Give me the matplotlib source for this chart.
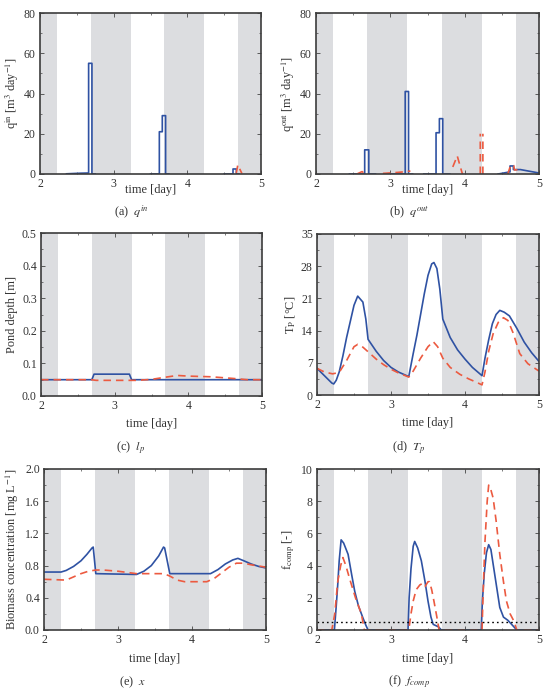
import numpy as np
import matplotlib
matplotlib.use('Agg')
import matplotlib.pyplot as plt
from matplotlib.ticker import MultipleLocator

plt.rcParams['font.family'] = ['Liberation Serif', 'DejaVu Serif']
plt.rcParams['mathtext.fontset'] = 'stix'
plt.rcParams['font.size'] = 8.5

nan = np.nan

# night periods (grey bands)
night_start = [2.0, 2.69, 3.69, 4.69]
night_end = [2.23, 3.23, 4.23, 5.0]

# (a) q_in
qin_t_blue = [2.36, 2.55, 2.66, 2.66, 2.705, 2.705, 2.75, nan, 3.50, 3.62, 3.62, 3.66, 3.66, 3.705, 3.705, 3.75,
              nan, 4.50, 4.62, 4.62, 4.665, 4.665, 4.70]
qin_blue = [0.1, 0.4, 0.5, 55, 55, 0, 0, nan, 0, 0, 21, 21, 29, 29, 0, 0,
            nan, 0, 0, 2.5, 2.5, 0, 0]
qin_t_red = [4.665, 4.685, 4.74]
qin_red = [0.5, 4.5, 0.3]

# (b) q_out
qout_t_blue = [2.45, 2.655, 2.655, 2.71, 2.71, 2.8, nan, 2.95, 3.20, 3.20, 3.245, 3.245, 3.3, nan,
               3.45, 3.615, 3.615, 3.66, 3.66, 3.705, 3.705, 3.8, nan,
               4.45, 4.6, 4.61, 4.61, 4.655, 4.655, 4.75, 5.0]
qout_blue = [0, 0, 12, 12, 0, 0, nan, 0, 0, 41, 41, 0, 0, nan,
             0, 0, 20.5, 20.5, 27.5, 27.5, 0, 0, nan,
             0, 1, 1, 4, 4, 2.2, 2.2, 0.5]
qout_t_red = [2.55, 2.62, 2.66, nan, 2.9, 3.1, 3.22, 3.27, nan, 3.84, 3.9, 3.95, 3.97, nan,
              4.21, 4.21, nan, 4.245, 4.245, nan, 4.58, 4.62, 4.66, 4.67, 4.73]
qout_red = [0, 1.2, 0, nan, 0.3, 0.8, 1.2, 1.5, nan, 3.5, 9, 2.5, 0, nan,
            0, 20, nan, 0, 20, nan, 0, 4.5, 4.2, 2, 2.2]

# (c) pond depth
lp_t_blue = [2.0, 2.69, 2.72, 3.20, 3.23, 5.0]
lp_blue = [0.05, 0.05, 0.067, 0.067, 0.05, 0.05]
lp_t_red = [2.0, 2.68, 2.75, 3.3, 3.5, 3.7, 3.85, 4.0, 4.3, 4.6, 4.8, 5.0]
lp_red = [0.05, 0.05, 0.048, 0.048, 0.051, 0.058, 0.063, 0.061, 0.059, 0.054, 0.05, 0.05]

# (d) pond temperature
tp_t_blue = [2.0, 2.1, 2.2, 2.226, 2.26, 2.3, 2.35, 2.4, 2.45, 2.5, 2.55, 2.62, 2.66, 2.69,
             2.8, 2.9, 3.0, 3.1, 3.24, 3.3, 3.35, 3.4, 3.45, 3.5, 3.55, 3.58, 3.62, 3.66, 3.70,
             3.8, 3.9, 4.0, 4.1, 4.23, 4.27, 4.32, 4.37, 4.42, 4.47, 4.53, 4.6, 4.7, 4.8, 4.9, 5.0]
tp_blue = [5.8, 4.2, 2.6, 2.4, 3.2, 5.0, 8.5, 12.5, 16.0, 19.5, 21.5, 20.2, 16.5, 12.1,
           9.5, 7.5, 6.0, 5.0, 4.0, 9.0, 13.0, 17.5, 22.0, 26.0, 28.5, 28.8, 27.5, 23.0, 16.5,
           12.5, 9.8, 7.8, 6.0, 4.2, 8.0, 12.0, 15.5, 17.5, 18.4, 18.0, 17.2, 14.5, 11.5, 9.2, 7.3]
tp_t_red = [2.0, 2.1, 2.21, 2.3, 2.4, 2.5, 2.55, 2.62, 2.69, 2.8, 2.9, 3.0, 3.1, 3.24,
            3.3, 3.4, 3.5, 3.57, 3.63, 3.7, 3.8, 3.93, 4.05, 4.15, 4.23,
            4.27, 4.32, 4.38, 4.45, 4.52, 4.58, 4.65, 4.74, 4.85, 5.0]
tp_red = [5.8, 5.0, 4.6, 4.9, 7.5, 10.5, 11.0, 10.4, 9.4, 7.8, 6.6, 5.6, 4.8, 3.9,
          5.2, 8.0, 10.5, 11.6, 10.5, 8.0, 6.0, 4.5, 3.5, 2.8, 2.2,
          5.0, 9.5, 13.3, 15.8, 16.8, 16.2, 13.5, 9.0, 6.8, 5.2]

# (e) biomass concentration
x_t_blue = [2.0, 2.23, 2.3, 2.4, 2.5, 2.58, 2.65, 2.665, 2.70, 3.25, 3.35, 3.45, 3.55, 3.615, 3.63, 3.70,
            4.25, 4.35, 4.45, 4.55, 4.62, 4.7, 4.8, 4.9, 5.0]
x_blue = [0.72, 0.72, 0.74, 0.79, 0.86, 0.94, 1.02, 1.03, 0.70, 0.69, 0.73, 0.80, 0.92, 1.03, 1.02, 0.70,
          0.70, 0.75, 0.82, 0.87, 0.89, 0.86, 0.82, 0.79, 0.77]
x_t_red = [2.0, 2.3, 2.4, 2.5, 2.6, 2.7, 2.8, 3.0, 3.25, 3.45, 3.62, 3.7, 3.8, 3.9, 4.0, 4.2,
           4.3, 4.4, 4.5, 4.6, 4.7, 4.8, 5.0]
x_red = [0.63, 0.62, 0.66, 0.70, 0.73, 0.745, 0.745, 0.73, 0.70, 0.70, 0.70, 0.67, 0.62, 0.60, 0.60, 0.60,
         0.64, 0.71, 0.78, 0.83, 0.83, 0.81, 0.78]

# (f) f_comp
fc_t_blue = [2.0, 2.235, 2.26, 2.28, 2.30, 2.326, 2.36, 2.42, 2.47, 2.51, 2.56, 2.62, 2.66, 2.69,
             3.23, 3.245, 3.27, 3.30, 3.32, 3.36, 3.41, 3.46, 3.50, 3.54, 3.57, 3.64, 3.68,
             4.22, 4.235, 4.26, 4.29, 4.32, 4.35, 4.38, 4.43, 4.47, 4.52, 4.58, 4.63, 4.70, 5.0]
fc_blue = [0, 0, 1.5, 2.8, 4.3, 5.6, 5.4, 4.7, 3.4, 2.4, 1.5, 0.76, 0.3, 0,
           0, 2.0, 3.8, 5.2, 5.5, 5.1, 4.3, 3.0, 1.8, 0.8, 0.35, 0.2, 0,
           0, 1.8, 3.5, 4.8, 5.3, 5.0, 4.1, 2.6, 1.4, 0.8, 0.6, 0.35, 0, 0]
fc_t_red = [2.0, 2.2, 2.24, 2.28, 2.32, 2.35, 2.39, 2.44, 2.52, 2.6, 2.64,
            3.24, 3.27, 3.30, 3.34, 3.39, 3.43, 3.46, 3.50, 3.52, 3.55, 3.58, 3.62, 3.65,
            4.23, 4.25, 4.27, 4.30, 4.32, 4.35, 4.38, 4.42, 4.47, 4.52, 4.56, 4.61, 4.66, 4.70, 5.0]
fc_red = [0, 0, 1.0, 3.0, 4.0, 4.5, 4.0, 3.2, 2.0, 1.0, 0,
          0, 1.0, 1.8, 2.5, 2.8, 2.9, 2.7, 3.0, 3.0, 2.5, 1.8, 0.8, 0,
          0, 3.0, 5.5, 8.0, 9.0, 8.7, 8.2, 6.8, 4.7, 3.0, 1.8, 1.0, 0.56, 0, 0]
fc_threshold = 0.5

W, H = 546, 690
fig = plt.figure(figsize=(W / 100, H / 100), dpi=100)

BLUE = '#2f52a3'
RED = '#ec5a40'
GREY = '#dcdde0'
DASH = (0, (4.5, 3))
TXT = '#333333'


def make_ax(l, t, r, b):
    ax = fig.add_axes([l / W, 1 - b / H, (r - l) / W, (b - t) / H])
    for s, e in zip(night_start, night_end):
        ax.axvspan(s, e, color=GREY, lw=0, zorder=0)
    ax.set_xlim(2, 5)
    ax.xaxis.set_major_locator(MultipleLocator(1))
    ax.xaxis.set_minor_locator(MultipleLocator(0.5))
    ax.tick_params(which='both', direction='in', top=True, right=True, colors='#444444',
                   labelcolor=TXT, labelsize=8.5, pad=3)
    ax.tick_params(which='major', length=3, width=0.6)
    ax.tick_params(which='minor', length=1.5, width=0.5)
    for sp in ax.spines.values():
        sp.set_color('#3c3c3c')
        sp.set_linewidth(1.2)
    ax.set_xlabel('time [day]', fontsize=8.8, color=TXT)
    return ax


def caption(x, y, s):
    fig.text(x / W, 1 - y / H, s, ha='center', va='center', fontsize=8.8, color=TXT)


# (a)
ax = make_ax(40, 13, 261, 174)
ax.plot(qin_t_blue, qin_blue, color=BLUE, lw=1.2)
ax.plot(qin_t_red, qin_red, color=RED, lw=1.2, ls=DASH)
ax.set_ylim(0, 80)
ax.yaxis.set_major_locator(MultipleLocator(20))
ax.yaxis.set_minor_locator(MultipleLocator(10))
ax.set_ylabel(r'q$^{\rm in}$ [m$^3$ day$^{-1}$]', fontsize=8.8, color=TXT, labelpad=2)
ax.xaxis.set_label_coords(0.5, -0.065)
caption(131, 212, r'(a)  $q^{in}$')

# (b)
ax = make_ax(316, 13, 539, 174)
ax.plot(qout_t_blue, qout_blue, color=BLUE, lw=1.2)
ax.plot(qout_t_red, qout_red, color=RED, lw=1.2, ls=DASH)
ax.set_ylim(0, 80)
ax.yaxis.set_major_locator(MultipleLocator(20))
ax.yaxis.set_minor_locator(MultipleLocator(10))
ax.set_ylabel(r'q$^{\rm out}$ [m$^3$ day$^{-1}$]', fontsize=8.8, color=TXT, labelpad=2)
ax.xaxis.set_label_coords(0.5, -0.065)
caption(409, 212, r'(b)  $q^{out}$')

# (c)
ax = make_ax(41, 233, 262, 396)
ax.plot(lp_t_blue, lp_blue, color=BLUE, lw=1.2)
ax.plot(lp_t_red, lp_red, color=RED, lw=1.2, ls=DASH)
ax.set_ylim(0, 0.5)
ax.yaxis.set_major_locator(MultipleLocator(0.1))
ax.yaxis.set_minor_locator(MultipleLocator(0.05))
ax.yaxis.set_major_formatter(plt.FormatStrFormatter('%.1f'))
ax.set_ylabel('Pond depth [m]', fontsize=8.8, color=TXT, labelpad=3)
ax.xaxis.set_label_coords(0.5, -0.135)
caption(131, 448, r'(c)  $l_p$')

# (d)
ax = make_ax(317, 234, 539, 395)
ax.plot(tp_t_blue, tp_blue, color=BLUE, lw=1.2)
ax.plot(tp_t_red, tp_red, color=RED, lw=1.2, ls=DASH)
ax.set_ylim(0, 35)
ax.yaxis.set_major_locator(MultipleLocator(7))
ax.yaxis.set_minor_locator(MultipleLocator(3.5))
ax.set_ylabel(r'T$_{\rm P}$ [°C]', fontsize=8.8, color=TXT, labelpad=3)
ax.xaxis.set_label_coords(0.5, -0.135)
caption(409, 447, r'(d)  $T_p$')

# (e)
ax = make_ax(44, 469, 266, 630)
ax.plot(x_t_blue, x_blue, color=BLUE, lw=1.2)
ax.plot(x_t_red, x_red, color=RED, lw=1.2, ls=DASH)
ax.set_ylim(0, 2.0)
ax.yaxis.set_major_locator(MultipleLocator(0.4))
ax.yaxis.set_minor_locator(MultipleLocator(0.2))
ax.yaxis.set_major_formatter(plt.FormatStrFormatter('%.1f'))
ax.set_ylabel(r'Biomass concentration [mg L$^{-1}$]', fontsize=8.8, color=TXT, labelpad=3)
ax.xaxis.set_label_coords(0.5, -0.145)
caption(133, 682, r'(e)  $x$')

# (f)
ax = make_ax(317, 469, 539, 630)
ax.plot(fc_t_blue, fc_blue, color=BLUE, lw=1.2)
ax.plot(fc_t_red, fc_red, color=RED, lw=1.2, ls=DASH)
ax.axhline(fc_threshold, color='black', lw=1.0, ls=(0, (1.2, 2.2)))
ax.set_ylim(0, 10)
ax.yaxis.set_major_locator(MultipleLocator(2))
ax.yaxis.set_minor_locator(MultipleLocator(1))
ax.set_ylabel(r'f$_{\rm comp}$ [-]', fontsize=8.8, color=TXT, labelpad=3)
ax.xaxis.set_label_coords(0.5, -0.145)
caption(409, 682, r'(f)  $f_{comp}$')

fig.savefig('out.png', dpi=100)
